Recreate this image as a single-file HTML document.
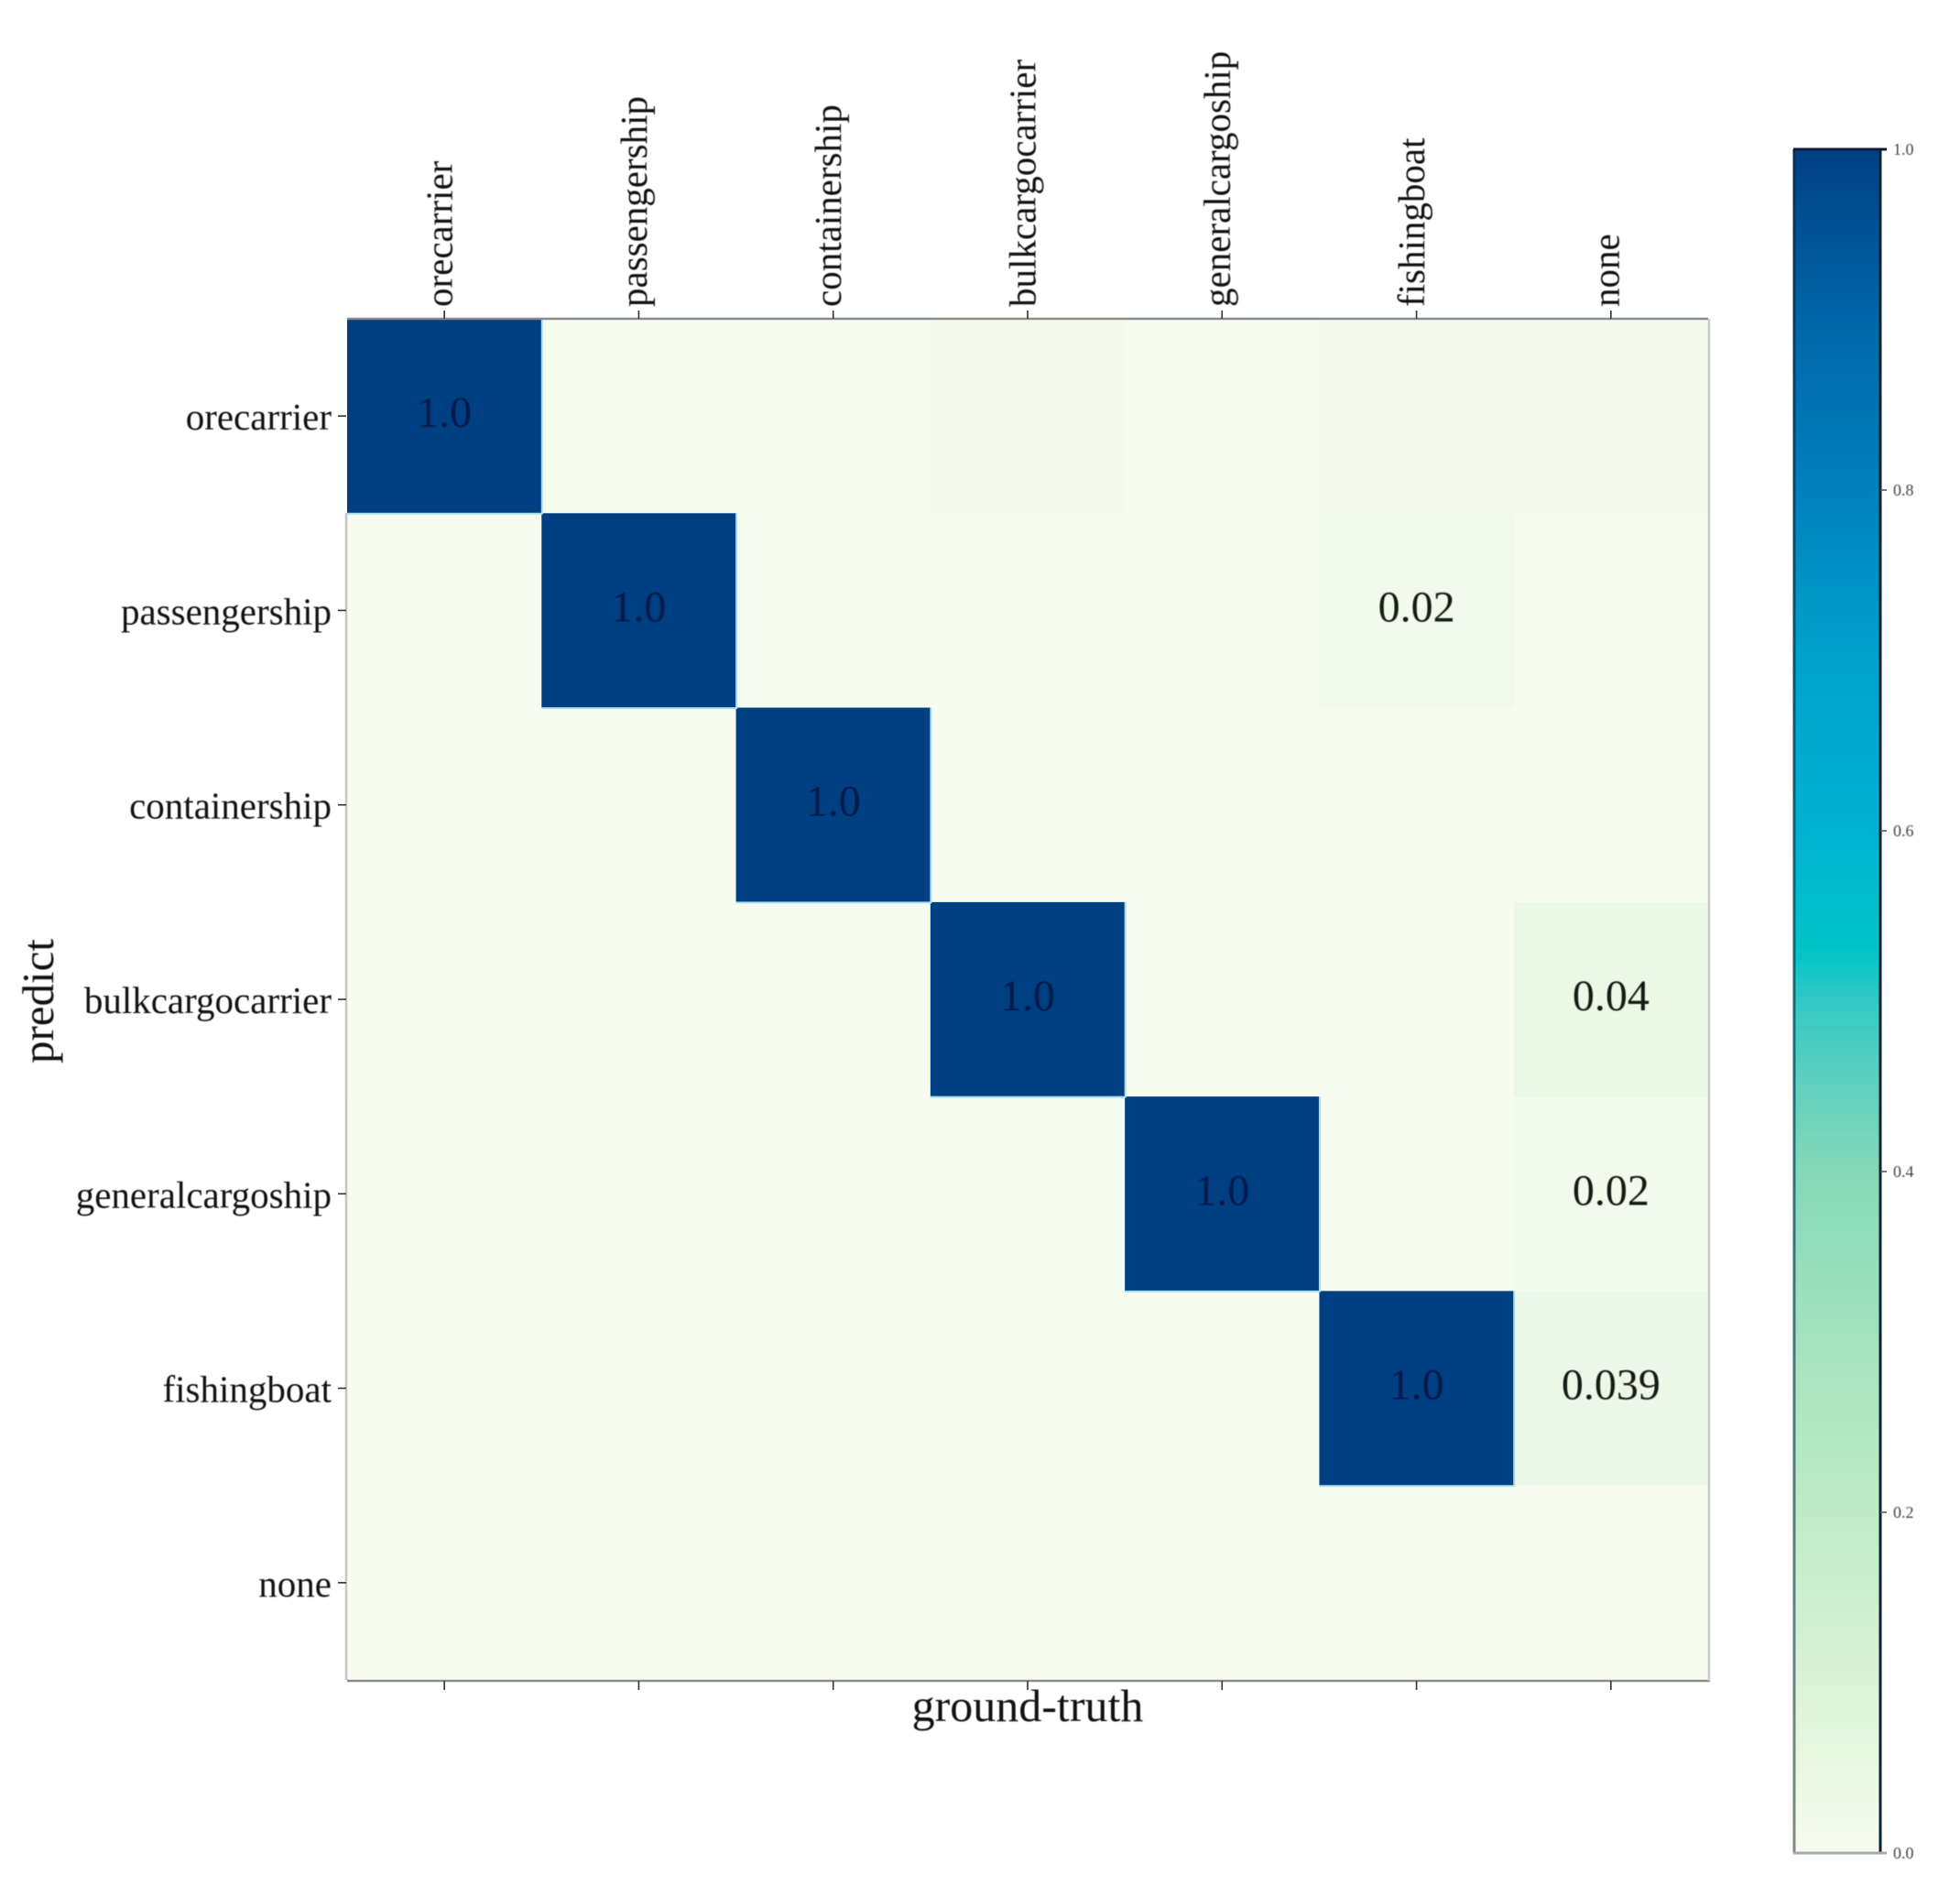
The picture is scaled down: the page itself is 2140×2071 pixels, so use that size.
<!DOCTYPE html>
<html lang="en">
<head>
<meta charset="utf-8">
<title>Confusion matrix</title>
<style>
html,body{margin:0;padding:0;background:#fff;width:2140px;height:2071px;overflow:hidden}
svg{display:block}
text{font-family:"Liberation Serif",serif}
</style>
</head>
<body>
<svg id="chart" xmlns="http://www.w3.org/2000/svg" width="2140" height="2071" viewBox="0 0 2140 2071">
  <defs>
    <linearGradient id="cbar-left-edge" x1="0" y1="0" x2="0" y2="1">
      <stop offset="0" stop-color="#06305c"/>
      <stop offset="0.5" stop-color="#1c6a7c"/>
      <stop offset="1" stop-color="#7f8a80"/>
    </linearGradient>
  </defs>
  <rect x="0" y="0" width="2140" height="2071" fill="#ffffff"/>
  <g id="cells"></g>
  <g id="frame"></g>
  <g id="soft" style="filter:blur(0.55px)"></g>
  <g id="cbar"></g>
</svg>
<script>
const xCategories = ["orecarrier","passengership","containership","bulkcargocarrier","generalcargoship","fishingboat","none"];
const yCategories = ["orecarrier","passengership","containership","bulkcargocarrier","generalcargoship","fishingboat","none"];
const row0 = [1.0, 0, 0, 0.012, 0, 0.01, 0.01];
const row1 = [0, 1.0, 0, 0, 0, 0.02, 0];
const row2 = [0, 0, 1.0, 0, 0, 0, 0];
const row3 = [0, 0, 0, 1.0, 0.004, 0, 0.04];
const row4 = [0.006, 0, 0, 0, 1.0, 0.004, 0.02];
const row5 = [0, 0, 0, 0, 0, 1.0, 0.039];
const row6 = [0, 0, 0, 0, 0, 0, 0];
const matrix = [row0, row1, row2, row3, row4, row5, row6];
const colorbarTicks = [0.0, 0.2, 0.4, 0.6, 0.8, 1.0];
const colormapValues = [0, 0.1, 0.2, 0.3, 0.4, 0.45, 0.5, 0.53, 0.6, 0.7, 0.8, 0.9, 1];
const colormapColors = ["#f7fcf0","#daf3d8","#c0ebc6","#a4e2c0","#84d9b8","#60d0be","#30c9c4","#00c4c8","#00b2d2","#00a2cc","#0080bc","#0066a8","#003f82"];

const NS = "http://www.w3.org/2000/svg";
const plot = {left:379, right:1865, top:348, bottom:1834};
const bar = {left:1958, right:2053, top:163, bottom:2023};
const labelValueMin = 0.015;

function xBand(i){ return plot.left + i * (plot.right - plot.left) / xCategories.length; }
function yBand(i){ return plot.top + i * (plot.bottom - plot.top) / yCategories.length; }
function barY(v){ return bar.bottom - v * (bar.bottom - bar.top); }

function hexToRgb(h){ return [parseInt(h.slice(1,3),16),parseInt(h.slice(3,5),16),parseInt(h.slice(5,7),16)]; }
function colorScale(v){
  const c = Math.max(0, Math.min(1, v));
  for (let i = 1; i < colormapValues.length; i++) {
    if (c <= colormapValues[i]) {
      const t = (c - colormapValues[i-1]) / (colormapValues[i] - colormapValues[i-1]);
      const a = hexToRgb(colormapColors[i-1]);
      const b = hexToRgb(colormapColors[i]);
      return "rgb(" + a.map((x,k) => Math.round(x + (b[k]-x)*t)).join(",") + ")";
    }
  }
  return colormapColors[colormapColors.length-1];
}
function make(tag, attrs, parent, txt){
  const el = document.createElementNS(NS, tag);
  for (const k in attrs) el.setAttribute(k, attrs[k]);
  if (txt !== undefined) el.textContent = txt;
  parent.appendChild(el);
  return el;
}
function formatValue(v){ return v === 1 ? "1.0" : String(v); }

const cellsG = document.getElementById("cells");
const frameG = document.getElementById("frame");
const softG = document.getElementById("soft");
const cbarG = document.getElementById("cbar");
const cw = xBand(1) - xBand(0);
const ch = yBand(1) - yBand(0);

matrix.forEach((row, r) => {
  row.forEach((v, c) => {
    const cell = make("rect", {x:xBand(c), y:yBand(r), width:cw+0.5, height:ch+0.5, fill:colorScale(v)}, cellsG);
    
    
  });
});
matrix.forEach((row, r) => {
  row.forEach((v, c) => {
    if (v > 0.5) {
      const halo = make("path", {d:"M"+(xBand(c)+cw+0.5)+" "+yBand(r)+"V"+(yBand(r)+ch+0.5)+"H"+xBand(c), fill:"none", stroke:"#a6def0", "stroke-width":2}, cellsG);
      
      
    }
  });
});

const frameTop = make("line", {x1:plot.left, x2:plot.right, y1:plot.top, y2:plot.top, stroke:"#8a8c88", "stroke-width":2.5}, frameG);


const frameBottom = make("line", {x1:plot.left, x2:plot.right+2, y1:plot.bottom+1, y2:plot.bottom+1, stroke:"#8a8c88", "stroke-width":2.5}, frameG);


const frameLeft = make("line", {x1:plot.left-1, x2:plot.left-1, y1:plot.top+212, y2:plot.bottom, stroke:"#c4c6c2", "stroke-width":2.5}, frameG);


const frameRight = make("line", {x1:plot.right+1, x2:plot.right+1, y1:plot.top, y2:plot.bottom+1, stroke:"#c8c8c6", "stroke-width":2.5}, frameG);



xCategories.forEach((name, i) => {
  const x = xBand(i) + cw/2;
  const t1 = make("line", {x1:x, x2:x, y1:plot.top-9, y2:plot.top, stroke:"#333", "stroke-width":1.6}, frameG);
  
  
  const t2 = make("line", {x1:x, x2:x, y1:plot.bottom+1, y2:plot.bottom+11, stroke:"#333", "stroke-width":1.6}, frameG);
  
  
  const lbl = make("text", {x:0, y:0, "font-size":41, fill:"#111", transform:"translate("+(x+8.5)+",335) rotate(-90)"}, softG, name);
  
  
});

yCategories.forEach((name, i) => {
  const y = yBand(i) + ch/2;
  const t = make("line", {x1:plot.left-10, x2:plot.left-1, y1:y, y2:y, stroke:"#333", "stroke-width":1.6}, frameG);
  
  
  const lbl = make("text", {x:362, y:y+15, "font-size":41, fill:"#111", "text-anchor":"end"}, softG, name);
  
  
});

matrix.forEach((row, r) => {
  row.forEach((v, c) => {
    if (v >= labelValueMin) {
      const txt = make("text", {x:xBand(c)+cw/2, y:yBand(r)+ch/2+12, "font-size":48, "text-anchor":"middle", fill: v > 0.5 ? "#051a4a" : "#141a14"}, softG, formatValue(v));
      
      
    }
  });
});

const xTitle = make("text", {x:1122, y:1879, "font-size":50, "text-anchor":"middle", fill:"#111"}, softG, "ground-truth");


const yTitle = make("text", {x:0, y:0, "font-size":49, "text-anchor":"middle", fill:"#111", transform:"translate(58,1093) rotate(-90)"}, softG, "predict");



const steps = 372;
for (let i = 0; i < steps; i++) {
  const v0 = i / steps;
  const v1 = (i + 1) / steps;
  const s = make("rect", {x:bar.left, y:barY(v1), width:bar.right-bar.left, height:barY(v0)-barY(v1)+0.6, fill:colorScale(v0)}, cbarG);
  
  
}
const cbLeft = make("rect", {x:bar.left-0.5, y:bar.top, width:3, height:bar.bottom-bar.top, fill:"url(#cbar-left-edge)"}, cbarG);


const cbRight = make("line", {x1:bar.right, x2:bar.right, y1:bar.top, y2:bar.bottom, stroke:"#0c2430", "stroke-width":3}, cbarG);


const cbTop = make("line", {x1:bar.left, x2:bar.right+7, y1:bar.top, y2:bar.top, stroke:"#0e1a40", "stroke-width":3}, cbarG);


const cbBottom = make("line", {x1:bar.left, x2:bar.right+7, y1:bar.bottom, y2:bar.bottom, stroke:"#a8aca6", "stroke-width":3}, cbarG);



colorbarTicks.forEach(v => {
  const y = barY(v);
  if (v > 0 && v < 1) {
    const t = make("line", {x1:bar.right, x2:bar.right+7, y1:y, y2:y, stroke:"#555", "stroke-width":1.6}, cbarG);
    
    
  }
  const lbl = make("text", {x:2067, y:y+6, "font-size":18, fill:"#444", style:"filter:blur(0.5px)"}, cbarG, v.toFixed(1));
  
  
});
</script>
</body>
</html>
